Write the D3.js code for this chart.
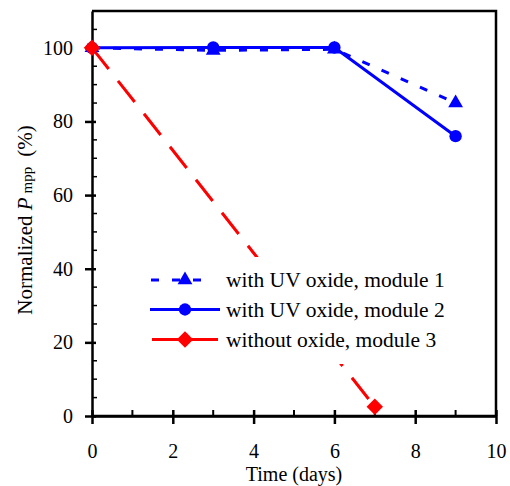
<!DOCTYPE html>
<html>
<head>
<meta charset="utf-8">
<script src="https://cdn.jsdelivr.net/npm/d3@7"></script>
<style>
  html, body { margin: 0; padding: 0; background: #fff; }
  #chart text { font-family: "Liberation Serif" !important; }
</style>
</head>
<body>
<svg id="chart" width="510" height="486" font-family="Liberation Serif"></svg>
<script>
// Measurement days and normalized maximum power point values (%)
const days1 = [0, 3, 6, 9];
const module1 = [100, 99.3, 99.6, 85];
const days2 = [0, 3, 6, 9];
const module2 = [100, 100.1, 100.1, 76];
const days3 = [0, 7];
const module3 = [100, 2.5];

const seriesNames = ["with UV oxide, module 1", "with UV oxide, module 2", "without oxide, module 3"];
const xTicks = [0, 2, 4, 6, 8, 10];
const yTicks = [0, 20, 40, 60, 80, 100];

const FONT = "\"Liberation Serif\"";

const svg = d3.select("#chart");
const margin = { left: 92, top: 11, right: 14, bottom: 70 };
const W = 510, H = 486;
const x = d3.scaleLinear().domain([0, 10]).range([margin.left, W - margin.right]);
const y = d3.scaleLinear().domain([0, 110]).range([H - margin.bottom, margin.top]);

const blue = "#0000ff", red = "#ff0000";

// Frame (top and right edges)
svg.append("path")
  .attr("d", `M${x(0)},${y(110)}H${x(10)}V${y(0)}`)
  .attr("fill", "none").attr("stroke", "#000").attr("stroke-width", 2.5);

// Minor ticks (inward)
const minorX = d3.range(1, 10, 2);
const minorY = d3.range(5, 110, 5).filter(v => v % 20 !== 0);
svg.append("g").selectAll("line").data(minorX).join("line")
  .attr("x1", d => x(d)).attr("x2", d => x(d))
  .attr("y1", y(0)).attr("y2", y(0) - 6)
  .attr("stroke", "#000").attr("stroke-width", 2);
svg.append("g").selectAll("line").data(minorY).join("line")
  .attr("y1", d => y(d)).attr("y2", d => y(d))
  .attr("x1", x(0)).attr("x2", x(0) + 5)
  .attr("stroke", "#000").attr("stroke-width", 1.5);

// Axes with crossing major ticks
const xAxis = svg.append("g").attr("transform", `translate(0,${y(0)})`)
  .call(d3.axisBottom(x).tickValues(xTicks).tickSize(8).tickSizeOuter(0).tickPadding(20));
const yAxis = svg.append("g").attr("transform", `translate(${x(0)},0)`)
  .call(d3.axisLeft(y).tickValues(yTicks).tickSize(7).tickSizeOuter(0).tickPadding(12));
[xAxis, yAxis].forEach(g => {
  g.attr("font-family", "Liberation Serif").attr("font-size", 20);
  g.select(".domain").attr("stroke", "#000").attr("stroke-width", 2.5);
  g.selectAll(".tick line").attr("stroke", "#000").attr("stroke-width", 2.5);
  g.selectAll(".tick text").attr("fill", "#000")
    .style("font-family", FONT).style("font-size", "20px");
});
xAxis.selectAll(".tick line").attr("y1", -6);
yAxis.selectAll(".tick line").attr("x1", 4);

// Series lines
const line = d3.line().x(d => x(d[0])).y(d => y(d[1]));
const pts1 = d3.zip(days1, module1);
const pts2 = d3.zip(days2, module2);
const pts3 = d3.zip(days3, module3);

svg.append("path").datum(pts3).attr("d", line)
  .attr("fill", "none").attr("stroke", red).attr("stroke-width", 3)
  .attr("stroke-dasharray", "27,15");
svg.append("path").datum(pts2).attr("d", line)
  .attr("fill", "none").attr("stroke", blue).attr("stroke-width", 3);
svg.append("path").datum(pts1).attr("d", line)
  .attr("fill", "none").attr("stroke", blue).attr("stroke-width", 3)
  .attr("stroke-dasharray", "8,13");

const tri = d3.symbol().type(d3.symbolTriangle).size(95);
const circ = d3.symbol().type(d3.symbolCircle).size(120);
// square turned 45 degrees gives the diamond marker
const sq = d3.symbol().type(d3.symbolSquare).size(135);

svg.append("g").selectAll("path").data(pts2).join("path")
  .attr("transform", d => `translate(${x(d[0])},${y(d[1])})`).attr("d", circ).attr("fill", blue);
svg.append("g").selectAll("path").data(pts1).join("path")
  .attr("transform", d => `translate(${x(d[0])},${y(d[1])})`).attr("d", tri).attr("fill", blue);
svg.append("g").selectAll("path").data(pts3).join("path")
  .attr("transform", d => `translate(${x(d[0])},${y(d[1])}) rotate(45)`).attr("d", sq).attr("fill", red);

// Redraw the x axis line over the low diamond
svg.append("line").attr("x1", x(0)).attr("x2", x(10)).attr("y1", y(0)).attr("y2", y(0))
  .attr("stroke", "#000").attr("stroke-width", 2.5);

// Legend
const legend = svg.append("g");
legend.append("rect").attr("x", 142).attr("y", 257).attr("width", 312).attr("height", 107).attr("fill", "#fff");
const rows = [
  { name: seriesNames[0], color: blue, dash: "8,13", sym: tri, rot: 0, x1: 151, x2: 204 },
  { name: seriesNames[1], color: blue, dash: null, sym: circ, rot: 0, x1: 150, x2: 220 },
  { name: seriesNames[2], color: red, dash: null, sym: sq, rot: 45, x1: 152, x2: 218 }
];
const rowY = [280, 309.5, 339.5];
rows.forEach((r, i) => {
  const g = legend.append("g").attr("transform", `translate(0,${rowY[i]})`);
  g.append("line").attr("x1", r.x1).attr("x2", r.x2).attr("y1", 0).attr("y2", 0)
    .attr("stroke", r.color).attr("stroke-width", 3)
    .attr("stroke-dasharray", r.dash);
  g.append("path").attr("transform", `translate(185,0) rotate(${r.rot})`).attr("d", r.sym).attr("fill", r.color);
  g.append("text").attr("x", 226).attr("y", 7)
    .attr("font-family", "Liberation Serif")
    .style("font-family", FONT).style("font-size", "21.5px").attr("fill", "#000").text(r.name);
});

// Axis titles
svg.append("text").attr("x", (x(0) + x(10)) / 2).attr("y", 481)
  .attr("text-anchor", "middle").attr("font-family", "Liberation Serif")
  .style("font-family", FONT).style("font-size", "20px")
  .attr("fill", "#000").text("Time (days)");
const yl = svg.append("text")
  .attr("transform", `translate(32,220) rotate(-90)`)
  .attr("text-anchor", "middle").attr("font-family", "Liberation Serif")
  .style("font-family", FONT).style("font-size", "21px")
  .attr("fill", "#000");
yl.append("tspan").text("Normalized ");
yl.append("tspan").style("font-style", "italic").text("P");
yl.append("tspan").attr("dx", 4).style("font-size", "15px").text("mpp");
yl.append("tspan").attr("dx", 10).text("(%)");
</script>
</body>
</html>
